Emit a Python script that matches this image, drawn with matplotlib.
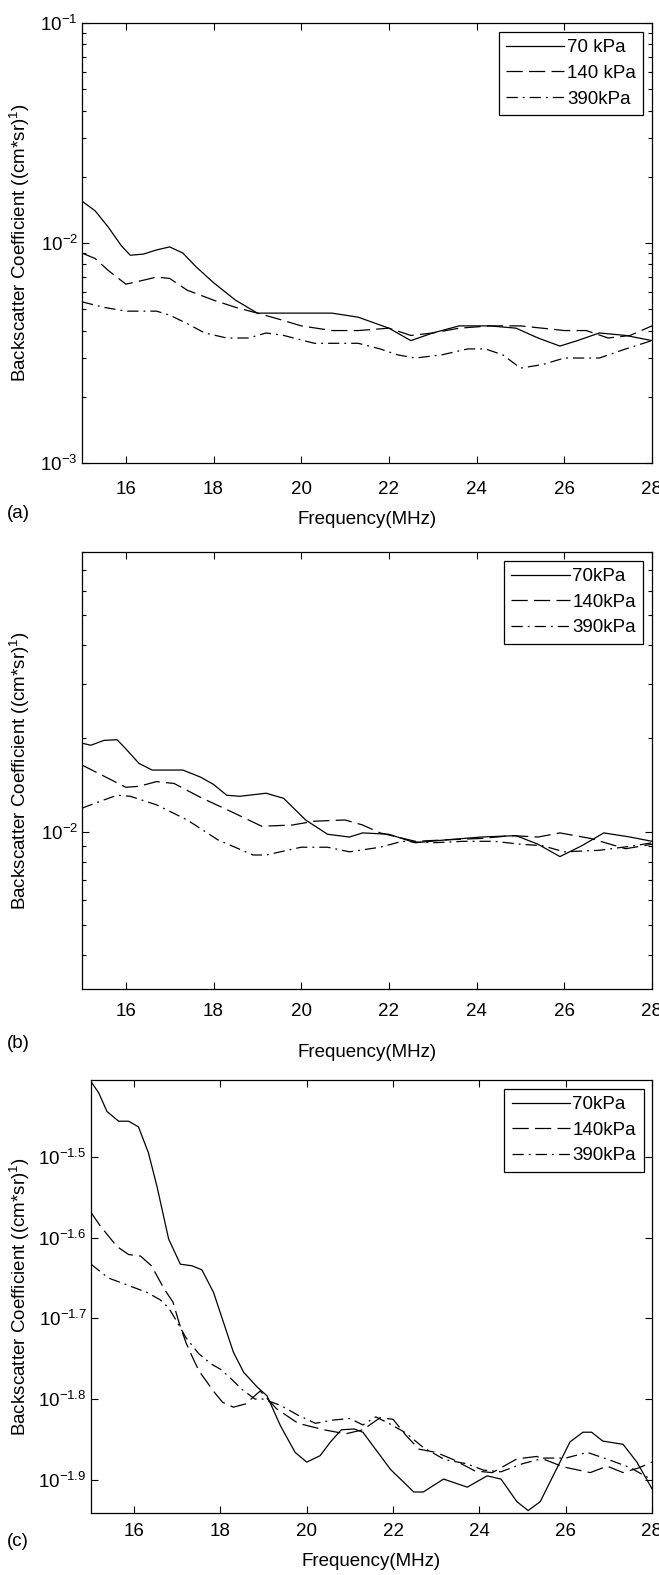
import numpy as np
import matplotlib
matplotlib.use("Agg")
import matplotlib.pyplot as plt
from matplotlib.ticker import FixedLocator, LogLocator, NullFormatter, NullLocator

plt.rcParams['font.family'] = ['Liberation Sans', 'DejaVu Sans']
plt.rcParams['mathtext.default'] = 'regular'
plt.rcParams['font.size'] = 13.5

# (a) backscatter coefficient, 1/(cm*sr)
fa_70 = [15.0, 15.3, 15.6, 15.9, 16.1, 16.4, 16.7, 17.0, 17.3, 17.6, 18.0, 18.5, 19.0, 19.5, 20.0,
         20.7, 21.3, 22.0, 22.5, 23.0, 23.6, 24.3, 24.9, 25.4, 25.9, 26.3, 26.8, 27.4, 28.0]
ya_70 = [0.0155, 0.0140, 0.0118, 0.0097, 0.0088, 0.0089, 0.0093, 0.0096, 0.0090, 0.0078, 0.0066,
         0.0055, 0.0048, 0.0048, 0.0048, 0.0048, 0.0046, 0.0041, 0.0036, 0.0039, 0.0042, 0.0042,
         0.0041, 0.0037, 0.0034, 0.0036, 0.0039, 0.0038, 0.0036]
fa_140 = [15.0, 15.3, 15.6, 16.0, 16.3, 16.7, 17.0, 17.4, 18.0, 18.5, 19.0, 19.5, 20.0, 20.7, 21.3,
          22.0, 22.5, 23.0, 23.6, 24.3, 25.0, 25.5, 26.0, 26.5, 27.0, 27.5, 28.0]
ya_140 = [0.0090, 0.0085, 0.0075, 0.0065, 0.0067, 0.0070, 0.0069, 0.0061, 0.0055, 0.0051, 0.0048,
          0.0045, 0.0042, 0.0040, 0.0040, 0.0041, 0.0038, 0.0039, 0.0041, 0.0042, 0.0042, 0.0041,
          0.0040, 0.0040, 0.0037, 0.0038, 0.0042]
fa_390 = [15.0, 15.5, 16.0, 16.7, 17.0, 17.4, 17.8, 18.3, 18.8, 19.2, 19.6, 20.3, 20.8, 21.3, 21.8,
          22.2, 22.6, 23.2, 23.8, 24.2, 24.6, 25.0, 25.5, 26.0, 26.8, 27.4, 28.0]
ya_390 = [0.0054, 0.0051, 0.0049, 0.0049, 0.0047, 0.0043, 0.0039, 0.0037, 0.0037, 0.0039, 0.0038,
          0.0035, 0.0035, 0.0035, 0.0033, 0.0031, 0.0030, 0.0031, 0.0033, 0.0033, 0.0031, 0.0027,
          0.0028, 0.0030, 0.0030, 0.0033, 0.0036]

# (b)
fb_70 = [15.0, 15.2, 15.5, 15.8, 16.0, 16.3, 16.6, 17.3, 17.7, 18.0, 18.3, 18.6, 19.2, 19.6, 20.1,
         20.6, 21.1, 21.4, 22.0, 22.6, 23.3, 24.1, 24.9, 25.4, 25.9, 26.4, 26.9, 27.5, 28.0]
yb_70 = [0.0193, 0.0190, 0.0197, 0.0198, 0.0185, 0.0166, 0.0158, 0.0158, 0.0150, 0.0142, 0.0131,
         0.0130, 0.0133, 0.0128, 0.0109, 0.0098, 0.0096, 0.0099, 0.0098, 0.0092, 0.0094, 0.0096,
         0.0097, 0.0091, 0.0083, 0.0090, 0.0099, 0.0096, 0.0093]
fb_140 = [15.0, 15.5, 16.0, 16.3, 16.7, 17.1, 17.7, 18.4, 19.1, 19.8, 20.3, 21.0, 21.4, 21.8, 22.6,
          23.3, 24.1, 24.8, 25.4, 25.9, 26.6, 27.4, 28.0]
yb_140 = [0.0164, 0.0151, 0.0139, 0.0140, 0.0145, 0.0143, 0.0129, 0.0116, 0.0104, 0.0105, 0.0108,
          0.0109, 0.0105, 0.0099, 0.0093, 0.0094, 0.0095, 0.0097, 0.0096, 0.0099, 0.0095, 0.0088,
          0.0091]
fb_390 = [15.0, 15.4, 15.8, 16.1, 16.7, 17.4, 18.1, 18.9, 19.2, 20.0, 20.6, 21.1, 21.8, 22.3, 23.0,
          23.7, 24.4, 25.0, 25.5, 26.0, 26.8, 27.6, 28.0]
yb_390 = [0.0119, 0.0125, 0.0131, 0.0130, 0.0122, 0.0109, 0.0094, 0.0084, 0.0084, 0.0089, 0.0089,
          0.0086, 0.0089, 0.0093, 0.0092, 0.0093, 0.0093, 0.0091, 0.0090, 0.0086, 0.0087, 0.0090,
          0.0092]

# (c) values given as powers of ten (exponents)
fc_70 = [15.0, 15.18, 15.37, 15.64, 15.87, 16.1, 16.33, 16.53, 16.8, 17.07, 17.34, 17.57, 17.84,
         18.3, 18.54, 18.85, 19.08, 19.39, 19.73, 20.0, 20.31, 20.55, 20.8, 21.1, 21.3, 21.94,
         22.48, 22.7, 23.17, 23.72, 24.18, 24.5, 24.87, 25.13, 25.41, 26.1, 26.4, 26.6, 26.86,
         27.33, 27.65, 28.0]
ec_70 = [-1.407, -1.421, -1.444, -1.456, -1.456, -1.463, -1.495, -1.537, -1.602, -1.633, -1.635,
         -1.640, -1.668, -1.742, -1.767, -1.785, -1.796, -1.833, -1.866, -1.878, -1.870, -1.853,
         -1.838, -1.837, -1.841, -1.887, -1.915, -1.915, -1.899, -1.909, -1.895, -1.899, -1.927,
         -1.938, -1.927, -1.853, -1.841, -1.841, -1.852, -1.856, -1.878, -1.911]
fc_140 = [15.0, 15.22, 15.6, 15.87, 16.15, 16.4, 16.7, 16.9, 17.05, 17.2, 17.35, 17.5, 17.85, 18.05,
          18.3, 18.58, 18.92, 19.3, 19.8, 20.4, 20.9, 21.3, 21.7, 22.0, 22.3, 22.6, 23.0, 23.4,
          23.9, 24.3, 24.87, 25.33, 25.95, 26.57, 26.96, 27.33, 27.7, 28.0]
ec_140 = [-1.569, -1.586, -1.611, -1.621, -1.623, -1.635, -1.664, -1.680, -1.707, -1.730, -1.748,
          -1.765, -1.791, -1.804, -1.810, -1.806, -1.790, -1.812, -1.830, -1.838, -1.843, -1.838,
          -1.823, -1.825, -1.845, -1.862, -1.866, -1.875, -1.889, -1.891, -1.874, -1.871, -1.884,
          -1.891, -1.883, -1.891, -1.885, -1.878]
fc_390 = [15.0, 15.4, 15.9, 16.3, 16.6, 16.8, 17.0, 17.2, 17.5, 17.8, 18.0, 18.25, 18.5, 18.8, 19.0,
          19.4, 19.8, 20.2, 20.6, 21.0, 21.3, 21.6, 21.9, 22.3, 22.7, 23.2, 23.7, 24.1, 24.5, 25.0,
          25.5, 26.0, 26.5, 27.0, 27.5, 28.0]
ec_390 = [-1.633, -1.650, -1.660, -1.668, -1.677, -1.687, -1.705, -1.724, -1.744, -1.757, -1.763,
          -1.775, -1.788, -1.800, -1.800, -1.808, -1.820, -1.830, -1.826, -1.824, -1.832, -1.822,
          -1.830, -1.842, -1.860, -1.875, -1.880, -1.888, -1.890, -1.880, -1.873, -1.873, -1.866,
          -1.875, -1.885, -1.900]

labels_a = ['70 kPa', '140 kPa', '390kPa']
labels_bc = ['70kPa', '140kPa', '390kPa']
c_ticks = [-1.9, -1.8, -1.7, -1.6, -1.5]

W, H = 659, 1575
fig = plt.figure(figsize=(W / 100, H / 100), dpi=100)


def box(l, t, r, b):
    # pixel box -> figure fraction
    return [l / W, 1 - b / H, (r - l) / W, (b - t) / H]


def panel(rect, series, labels, ylim, xlab_px, tick_pad, letter, letter_y):
    ax = fig.add_axes(rect)
    styles = [dict(ls='-'), dict(dashes=(13, 5)), dict(dashes=(9, 4, 1.5, 4))]
    for (f, y), lab, st in zip(series, labels, styles):
        ax.plot(f, y, color='black', lw=0.9, label=lab, **st)
    ax.set_yscale('log')
    ax.set_xlim(15, 28)
    ax.set_ylim(*ylim)
    ax.set_xticks([16, 18, 20, 22, 24, 26, 28])
    ax.xaxis.set_minor_locator(NullLocator())
    ax.tick_params(which='both', direction='in', top=True, right=True, width=0.8, labelsize=13.5)
    ax.tick_params(which='major', length=5)
    ax.tick_params(which='minor', length=3)
    ax.tick_params(axis='x', pad=tick_pad)
    ax.tick_params(axis='y', pad=3)
    for s in ax.spines.values():
        s.set_linewidth(0.9)
    wpx = rect[2] * W
    hpx = rect[3] * H
    lpx = rect[0] * W
    ax.set_xlabel('Frequency(MHz)', fontsize=13.5)
    ax.xaxis.set_label_coords(0.5, -xlab_px / hpx)
    ax.set_ylabel('Backscatter Coefficient ((cm*sr)$^{1}$)', fontsize=13.5)
    ax.yaxis.set_label_coords((32 - lpx) / wpx, 0.5)
    leg = ax.legend(loc='upper right', bbox_to_anchor=(0.985, 0.98), fontsize=13.5,
                    fancybox=False, framealpha=1, edgecolor='black', handlelength=3.1,
                    handletextpad=0.15, borderpad=0.4, labelspacing=0.45, borderaxespad=0)
    leg.get_frame().set_linewidth(0.9)
    fig.text(7 / W, 1 - letter_y / H, letter, fontsize=13.5, va='center', ha='left')
    return ax


axA = panel(box(82, 23, 652, 463),
            [(fa_70, ya_70), (fa_140, ya_140), (fa_390, ya_390)],
            labels_a, (1e-3, 1e-1), 48, 13, '(a)', 514)
axA.yaxis.set_major_locator(FixedLocator([1e-3, 1e-2, 1e-1]))
axA.yaxis.set_minor_locator(LogLocator(subs=np.arange(2, 10)))
axA.yaxis.set_minor_formatter(NullFormatter())

axB = panel(box(82, 552, 652, 989),
            [(fb_70, yb_70), (fb_140, yb_140), (fb_390, yb_390)],
            labels_bc, (3.1e-3, 8e-2), 55, 10, '(b)', 1044)
axB.yaxis.set_major_locator(FixedLocator([1e-2]))
axB.yaxis.set_minor_locator(LogLocator(subs=np.arange(2, 10)))
axB.yaxis.set_minor_formatter(NullFormatter())

axC = panel(box(91, 1080, 652, 1513),
            [(fc_70, np.power(10.0, ec_70)), (fc_140, np.power(10.0, ec_140)),
             (fc_390, np.power(10.0, ec_390))],
            labels_bc, (10 ** -1.941, 10 ** -1.405), 40, 7, '(c)', 1542)
axC.yaxis.set_major_locator(FixedLocator([10 ** e for e in c_ticks]))
axC.set_yticklabels(['$10^{%.1f}$' % e for e in c_ticks])
axC.yaxis.set_minor_locator(NullLocator())

fig.savefig('out.png', dpi=100)
